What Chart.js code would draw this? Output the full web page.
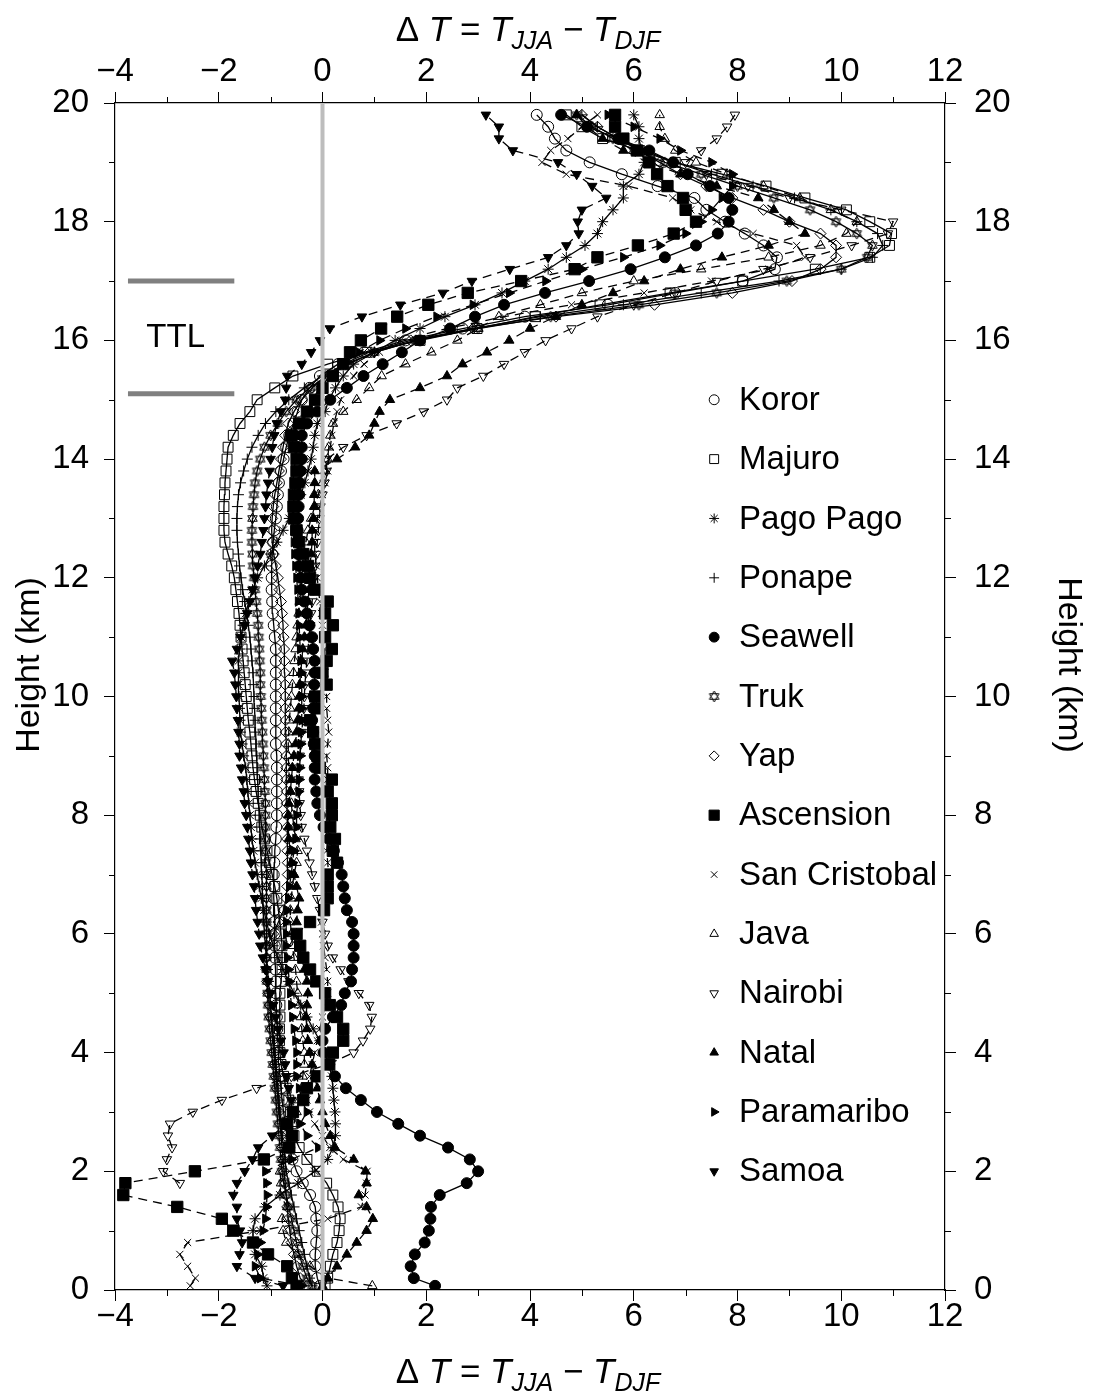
<!DOCTYPE html>
<html><head><meta charset="utf-8">
<script src="https://cdn.jsdelivr.net/npm/chart.js@4/dist/chart.umd.min.js"></script>
<style>html,body{margin:0;padding:0;background:#fff;}canvas{display:block;}</style>
</head><body>
<canvas id="c" width="1094" height="1399"></canvas>
<script>
// ---------------- DATA ----------------
const stations = ['Koror','Majuro','Pago Pago','Ponape','Seawell','Truk','Yap','Ascension','San Cristobal','Java','Nairobi','Natal','Paramaribo','Samoa'];
const heights = [0.07,0.2,0.4,0.6,0.8,1.0,1.2,1.4,1.6,1.8,
 2.0,2.2,2.4,2.6,2.8,3.0,3.2,3.4,3.6,3.8,
 4.0,4.2,4.4,4.6,4.8,5.0,5.2,5.4,5.6,5.8,
 6.0,6.2,6.4,6.6,6.8,7.0,7.2,7.4,7.6,7.8,
 8.0,8.2,8.4,8.6,8.8,9.0,9.2,9.4,9.6,9.8,
 10.0,10.2,10.4,10.6,10.8,11.0,11.2,11.4,11.6,11.8,
 12.0,12.2,12.4,12.6,12.8,13.0,13.2,13.4,13.6,13.8,
 14.0,14.2,14.4,14.6,14.8,15.0,15.2,15.4,15.6,15.8,
 16.0,16.2,16.4,16.6,16.8,17.0,17.2,17.4,17.6,17.8,
 18.0,18.2,18.4,18.6,18.8,19.0,19.2,19.4,19.6,19.8];
const koror = [-0.05,-0.10,-0.14,-0.14,-0.12,-0.10,-0.12,-0.14,-0.24,-0.38,
 -0.50,-0.58,-0.64,-0.68,-0.72,-0.75,-0.78,-0.80,-0.82,-0.84,
 -0.85,-0.86,-0.87,-0.88,-0.89,-0.90,-0.90,-0.91,-0.92,-0.92,
 -0.92,-0.93,-0.93,-0.94,-0.94,-0.94,-0.93,-0.92,-0.90,-0.89,
 -0.88,-0.88,-0.88,-0.88,-0.88,-0.89,-0.90,-0.90,-0.90,-0.90,
 -0.90,-0.90,-0.90,-0.90,-0.90,-0.92,-0.94,-0.96,-0.97,-0.98,
 -0.98,-0.98,-0.97,-0.95,-0.93,-0.90,-0.88,-0.86,-0.84,-0.80,
 -0.75,-0.70,-0.64,-0.56,-0.48,-0.40,-0.25,-0.05,0.30,0.80,
 1.6,2.7,3.9,5.5,6.8,8.1,8.72,8.76,8.5,8.14,
 7.76,7.4,7.17,6.46,5.77,5.15,4.7,4.48,4.35,4.13];
const majuro = [0.05,0.10,0.15,0.20,0.28,0.32,0.34,0.30,0.20,0.08,
 -0.10,-0.30,-0.45,-0.55,-0.60,-0.62,-0.65,-0.70,-0.75,-0.80,
 -0.82,-0.83,-0.83,-0.82,-0.82,-0.82,-0.80,-0.78,-0.78,-0.78,
 -0.80,-0.82,-0.85,-0.88,-0.92,-0.97,-1.02,-1.07,-1.12,-1.17,
 -1.20,-1.24,-1.28,-1.31,-1.34,-1.36,-1.38,-1.40,-1.43,-1.45,
 -1.47,-1.49,-1.51,-1.53,-1.55,-1.57,-1.59,-1.61,-1.64,-1.67,
 -1.70,-1.75,-1.82,-1.88,-1.90,-1.90,-1.90,-1.89,-1.88,-1.86,
 -1.84,-1.82,-1.72,-1.59,-1.40,-1.26,-0.92,-0.57,0.10,0.86,
 1.88,2.98,4.10,5.35,6.70,8.10,9.50,10.55,10.93,10.97,
 10.55,10.10,9.30,8.55,7.70,6.80,6.10,5.40,5.00,4.70];
const pagoPago = [-1.07,-1.14,-1.17,-1.30,-1.34,-1.34,-1.30,-1.11,-0.82,-0.47,
 -0.15,0.10,0.20,0.25,0.25,0.24,0.22,0.20,0.18,0.12,
 0.05,-0.05,-0.18,-0.30,-0.42,-0.55,-0.66,-0.76,-0.86,-0.95,
 -1.02,-1.08,-1.13,-1.18,-1.22,-1.26,-1.30,-1.33,-1.36,-1.38,
 -1.40,-1.42,-1.44,-1.46,-1.48,-1.52,-1.55,-1.58,-1.59,-1.60,
 -1.61,-1.62,-1.62,-1.62,-1.60,-1.57,-1.53,-1.48,-1.42,-1.35,
 -1.25,-1.12,-1.00,-0.88,-0.76,-0.64,-0.52,-0.42,-0.34,-0.28,
 -0.22,-0.18,-0.15,-0.10,0.05,0.12,0.25,0.40,0.60,1.00,
 1.40,1.88,2.36,2.94,3.46,3.90,4.35,4.70,5.06,5.30,
 5.40,5.60,5.80,5.80,6.10,6.20,6.15,6.10,6.10,6.00];
const ponape = [-0.20,-0.25,-0.30,-0.35,-0.40,-0.45,-0.50,-0.55,-0.60,-0.65,
 -0.70,-0.72,-0.75,-0.78,-0.80,-0.82,-0.84,-0.86,-0.88,-0.90,
 -0.92,-0.94,-0.96,-0.98,-1.00,-1.02,-1.04,-1.06,-1.08,-1.10,
 -1.12,-1.13,-1.14,-1.15,-1.16,-1.17,-1.18,-1.19,-1.20,-1.21,
 -1.22,-1.23,-1.24,-1.25,-1.26,-1.27,-1.28,-1.29,-1.30,-1.31,
 -1.32,-1.33,-1.34,-1.36,-1.38,-1.40,-1.43,-1.46,-1.50,-1.54,
 -1.57,-1.60,-1.62,-1.64,-1.65,-1.65,-1.64,-1.62,-1.58,-1.52,
 -1.45,-1.36,-1.24,-1.10,-0.90,-0.65,-0.35,0.00,0.45,1.00,
 1.80,2.90,4.20,5.80,7.30,8.80,10.00,10.60,10.80,10.70,
 10.30,9.80,9.10,8.30,7.50,6.80,6.20,5.70,5.30,5.00];
const seawell = [2.17,1.76,1.70,1.78,1.97,2.05,2.08,2.09,2.26,2.78,
 3.00,2.84,2.42,1.88,1.46,1.05,0.74,0.45,0.24,0.13,
 0.02,0.00,0.05,0.20,0.36,0.43,0.55,0.57,0.60,0.60,
 0.60,0.57,0.47,0.43,0.40,0.37,0.30,0.22,0.12,0.02,
 -0.05,-0.10,-0.12,-0.15,-0.15,-0.15,-0.17,-0.18,-0.20,-0.18,
 -0.17,-0.16,-0.15,-0.15,-0.18,-0.20,-0.25,-0.30,-0.35,-0.40,
 -0.42,-0.45,-0.47,-0.48,-0.48,-0.47,-0.46,-0.45,-0.44,-0.42,
 -0.40,-0.40,-0.40,-0.30,-0.10,0.15,0.47,0.79,1.16,1.53,
 1.88,2.46,2.94,3.50,4.29,5.14,5.94,6.60,7.20,7.62,
 7.83,7.90,7.83,7.47,7.04,6.76,6.30,5.70,5.10,4.60];
const truk = [-0.20,-0.30,-0.38,-0.45,-0.50,-0.55,-0.60,-0.65,-0.70,-0.75,
 -0.78,-0.80,-0.82,-0.84,-0.86,-0.88,-0.90,-0.92,-0.94,-0.96,
 -0.98,-1.00,-1.02,-1.04,-1.05,-1.06,-1.07,-1.08,-1.08,-1.08,
 -1.08,-1.08,-1.08,-1.08,-1.08,-1.08,-1.09,-1.10,-1.10,-1.10,
 -1.10,-1.10,-1.11,-1.12,-1.13,-1.14,-1.15,-1.16,-1.17,-1.18,
 -1.19,-1.20,-1.20,-1.21,-1.22,-1.23,-1.24,-1.26,-1.28,-1.30,
 -1.32,-1.34,-1.35,-1.36,-1.36,-1.35,-1.34,-1.32,-1.30,-1.26,
 -1.20,-1.12,-1.00,-0.86,-0.70,-0.50,-0.25,0.10,0.50,1.00,
 1.80,3.00,4.40,6.10,7.60,8.95,10.00,10.50,10.60,10.30,
 9.90,9.40,8.70,8.00,7.30,6.60,6.00,5.60,5.20,4.90];
const yap = [-0.30,-0.43,-0.50,-0.55,-0.60,-0.63,-0.66,-0.68,-0.70,-0.72,
 -0.74,-0.76,-0.78,-0.80,-0.82,-0.84,-0.86,-0.88,-0.90,-0.92,
 -0.94,-0.96,-0.98,-1.00,-1.02,-1.05,-1.07,-1.08,-1.08,-1.07,
 -0.95,-0.85,-0.75,-0.70,-0.68,-0.67,-0.67,-0.68,-0.68,-0.68,
 -0.68,-0.69,-0.69,-0.70,-0.70,-0.70,-0.70,-0.71,-0.71,-0.72,
 -0.72,-0.72,-0.73,-0.73,-0.74,-0.75,-0.76,-0.78,-0.80,-0.83,
 -0.86,-0.90,-0.94,-0.97,-0.98,-0.97,-0.95,-0.92,-0.88,-0.84,
 -0.80,-0.76,-0.72,-0.66,-0.55,-0.40,-0.20,0.05,0.40,0.90,
 1.70,2.90,4.50,6.40,7.90,9.05,9.60,9.90,9.90,9.60,
 9.00,8.50,7.90,7.40,6.90,6.50,6.10,5.70,5.30,5.00];
const ascension = [-0.50,-0.59,-0.68,-1.05,-1.34,-1.72,-1.94,-2.80,-3.84,-3.80,
 -2.46,-1.13,-0.64,-0.59,-0.68,-0.57,-0.37,-0.30,-0.11,0.13,
 0.20,0.40,0.40,0.28,0.14,0.05,-0.12,-0.24,-0.37,-0.43,
 -0.50,-0.24,0.03,0.10,0.10,0.10,0.28,0.20,0.24,0.15,
 0.18,0.18,0.10,0.18,-0.05,-0.10,-0.14,-0.18,-0.24,-0.10,
 -0.14,0.08,0.00,0.08,0.18,0.05,0.20,0.05,0.10,-0.14,
 -0.24,-0.28,-0.37,-0.45,-0.50,-0.55,-0.56,-0.55,-0.52,-0.50,
 -0.50,-0.55,-0.60,-0.45,-0.30,-0.14,0.00,0.20,0.40,0.53,
 0.74,1.13,1.44,2.04,2.80,3.83,4.86,5.30,6.08,6.77,
 7.20,7.00,6.95,6.65,6.45,6.30,6.06,5.80,5.64,5.64];
const sanCristobal = [-2.55,-2.45,-2.60,-2.75,-2.60,-1.20,0.10,0.75,0.82,0.85,
 0.86,0.40,0.14,0.00,-0.15,-0.25,-0.30,-0.30,-0.25,-0.20,
 -0.15,-0.10,-0.05,0.00,0.05,0.10,0.10,0.08,0.05,0.02,
 0.00,-0.02,0.00,0.05,0.10,0.12,0.10,0.08,0.10,0.12,
 0.15,0.15,0.12,0.10,0.10,0.08,0.10,0.12,0.10,0.08,
 0.08,0.06,0.05,0.05,0.04,0.02,0.00,-0.02,-0.05,-0.08,
 -0.10,-0.12,-0.15,-0.15,-0.12,-0.10,-0.05,0.00,0.05,0.10,
 0.12,0.15,0.18,0.22,0.28,0.35,0.45,0.60,0.80,1.10,
 1.50,2.40,3.50,4.80,6.20,7.50,8.60,9.30,9.14,8.30,
 7.60,7.10,6.75,5.90,4.70,4.23,4.40,4.73,5.00,5.30];
const java = [0.96,0.10,-0.24,-0.50,-0.70,-0.76,-0.78,-0.68,-0.82,-0.80,
 -0.82,-0.76,-0.70,-0.62,-0.55,-0.50,-0.45,-0.40,-0.38,-0.35,
 -0.35,-0.38,-0.40,-0.42,-0.45,-0.48,-0.50,-0.52,-0.55,-0.58,
 -0.60,-0.62,-0.62,-0.60,-0.58,-0.55,-0.50,-0.48,-0.52,-0.55,
 -0.58,-0.60,-0.62,-0.64,-0.65,-0.66,-0.66,-0.65,-0.64,-0.62,
 -0.60,-0.58,-0.56,-0.54,-0.52,-0.50,-0.48,-0.46,-0.44,-0.42,
 -0.40,-0.38,-0.35,-0.32,-0.28,-0.22,-0.15,-0.08,0.00,0.05,
 0.10,0.12,0.15,0.20,0.40,0.66,0.90,1.14,1.60,2.10,
 2.60,3.00,3.40,4.20,5.00,6.00,7.30,8.60,9.60,10.10,
 10.30,9.80,9.20,8.50,7.80,7.20,6.80,6.60,6.50,6.50];
const nairobi = [null,null,null,null,null,null,null,null,null,-2.75,
 -3.07,-3.00,-2.90,-2.98,-2.94,-2.50,-1.94,-1.27,-0.60,0.10,
 0.60,0.78,0.92,0.95,0.90,0.70,0.50,0.35,0.20,0.10,
 0.05,0.00,-0.05,-0.10,-0.15,-0.20,-0.25,-0.30,-0.35,-0.40,
 -0.42,-0.44,-0.45,-0.46,-0.45,-0.44,-0.42,-0.40,-0.38,-0.36,
 -0.35,-0.34,-0.32,-0.30,-0.28,-0.26,-0.24,-0.22,-0.20,-0.18,
 -0.16,-0.14,-0.12,-0.10,-0.08,-0.06,-0.04,0.00,0.04,0.08,
 0.08,0.40,0.85,1.43,1.95,2.40,2.60,3.10,3.50,3.90,
 4.30,4.80,5.30,6.00,6.80,7.60,8.50,9.40,10.20,10.90,
 11.00,10.00,9.00,8.20,7.40,7.00,7.30,7.60,7.80,7.95];
const natal = [0.00,0.10,0.28,0.47,0.66,0.85,0.97,0.85,0.70,0.85,
 0.83,0.60,0.24,0.15,0.05,0.00,-0.05,-0.10,-0.15,-0.20,
 -0.25,-0.28,-0.30,-0.32,-0.30,-0.28,-0.30,-0.35,-0.40,-0.45,
 -0.50,-0.50,-0.48,-0.45,-0.50,-0.55,-0.60,-0.62,-0.65,-0.66,
 -0.66,-0.65,-0.62,-0.60,-0.58,-0.55,-0.52,-0.50,-0.48,-0.46,
 -0.45,-0.44,-0.42,-0.40,-0.38,-0.35,-0.32,-0.30,-0.28,-0.26,
 -0.25,-0.24,-0.22,-0.20,-0.20,-0.18,-0.16,-0.16,-0.15,-0.15,
 0.28,0.63,0.90,1.00,1.10,1.30,1.88,2.40,2.70,3.17,
 3.60,4.00,4.50,5.00,5.60,6.20,6.90,7.70,8.60,9.30,
 9.00,8.70,8.40,7.60,6.90,6.30,5.80,5.40,5.10,4.90];
const paramaribo = [-0.40,-1.20,-1.30,-1.25,-1.20,-1.15,-1.10,-1.08,-1.07,-1.08,
 -1.10,-0.60,-0.08,-0.30,-0.43,-0.30,-0.40,-0.45,-0.50,-0.50,
 -0.50,-0.52,-0.55,-0.58,-0.60,-0.62,-0.64,-0.66,-0.68,-0.70,
 -0.70,-0.70,-0.68,-0.66,-0.64,-0.60,-0.58,-0.55,-0.52,-0.50,
 -0.50,-0.48,-0.46,-0.45,-0.44,-0.43,-0.42,-0.41,-0.40,-0.40,
 -0.40,-0.40,-0.41,-0.42,-0.43,-0.44,-0.45,-0.46,-0.47,-0.48,
 -0.50,-0.52,-0.54,-0.55,-0.56,-0.57,-0.58,-0.58,-0.57,-0.55,
 -0.52,-0.48,-0.44,-0.38,-0.30,-0.20,-0.05,0.15,0.40,0.70,
 1.10,1.60,2.20,2.90,3.60,4.30,5.00,5.80,6.50,7.00,
 7.30,7.50,7.70,7.90,7.90,7.50,6.90,6.50,6.00,5.50];
const samoa = [-0.76,-1.30,-1.65,-1.60,-1.55,-1.59,-1.65,-1.65,-1.72,-1.65,
 -1.50,-1.35,-1.24,-0.97,-0.70,-0.60,-0.60,-0.65,-0.70,-0.72,
 -0.75,-0.80,-0.85,-0.90,-0.95,-1.00,-1.05,-1.10,-1.15,-1.20,
 -1.22,-1.25,-1.28,-1.30,-1.32,-1.35,-1.38,-1.40,-1.43,-1.45,
 -1.47,-1.50,-1.52,-1.55,-1.57,-1.60,-1.60,-1.62,-1.63,-1.65,
 -1.66,-1.68,-1.70,-1.74,-1.65,-1.58,-1.50,-1.45,-1.40,-1.35,
 -1.30,-1.25,-1.20,-1.17,-1.14,-1.12,-1.10,-1.08,-1.05,-1.02,
 -1.00,-0.97,-0.93,-0.88,-0.80,-0.72,-0.70,-0.68,-0.40,-0.22,
 -0.05,0.14,0.76,1.50,2.32,2.88,3.61,4.35,4.70,4.94,
 4.92,5.00,5.47,5.20,4.90,4.54,3.67,3.40,3.40,3.15];
const series = [koror, majuro, pagoPago, ponape, seawell, truk, yap, ascension, sanCristobal, java, nairobi, natal, paramaribo, samoa];
const ttlBounds = [15.1, 17.0];

// ---------------- STYLE ----------------
const FONT = "'Liberation Sans', Arial, Helvetica, sans-serif";
Chart.defaults.font.family = FONT;
Chart.defaults.color = '#000';

function makeHexagram(r){
  const s = Math.ceil(r*2+4), c = document.createElement('canvas');
  c.width = s; c.height = s;
  const g = c.getContext('2d');
  g.strokeStyle = '#000'; g.lineWidth = 1;
  const cx = s/2, cy = s/2;
  [0, Math.PI].forEach(rot => {
    g.beginPath();
    for (let k=0;k<3;k++){
      const a = rot + k*2*Math.PI/3;
      const px = cx + Math.sin(a)*r, py = cy - Math.cos(a)*r;
      if (k) g.lineTo(px,py); else g.moveTo(px,py);
    }
    g.closePath(); g.stroke();
  });
  return c;
}
const hexPt = makeHexagram(5.5);

const styles = [
 {ps:'circle', r:5.5, fill:false, dash:false},
 {ps:'rect', r:7, fill:false, dash:false},
 {ps:'star', r:5.5, fill:false, dash:false},
 {ps:'cross', r:5.5, fill:false, dash:false},
 {ps:'circle', r:5.5, fill:true, dash:false},
 {ps:hexPt, r:5.5, fill:false, dash:false},
 {ps:'rectRot', r:5.5, fill:false, dash:false},
 {ps:'rect', r:8, fill:true, dash:true},
 {ps:'crossRot', r:5, fill:false, dash:true},
 {ps:'triangle', r:5.5, fill:false, dash:true},
 {ps:'triangle', rot:180, r:5.5, fill:false, dash:true},
 {ps:'triangle', r:5.5, fill:true, dash:true},
 {ps:'triangle', rot:90, r:5.5, fill:true, dash:true},
 {ps:'triangle', rot:180, r:5.5, fill:true, dash:true}
];

function pts(arr){
  const out = [];
  arr.forEach((v,i) => { if (v !== null) out.push({x:v, y:heights[i]}); });
  return out;
}
const fmt = v => (v < 0 ? '\u2212' + Math.abs(v) : String(v));

const datasets = stations.map((name,i) => {
  const st = styles[i];
  return {
    label: name, data: pts(series[i]), showLine: true,
    borderColor: '#000', borderWidth: 1.3, borderDash: st.dash ? [9,6] : [],
    pointStyle: st.ps, pointRadius: st.r, pointRotation: st.rot || 0,
    pointBorderColor: '#000', pointBackgroundColor: st.fill ? '#000' : 'rgba(0,0,0,0)',
    pointBorderWidth: 1, fill: false, tension: 0,
    xAxisID: 'x', yAxisID: 'y'
  };
});

const TICKLEN = 11, MINORLEN = 6;
function axisOpts(pos, min, max, pad, extra){
  return Object.assign({
    type: 'linear', position: pos, min: min, max: max,
    ticks: {stepSize: 2, font: {size: 33}, color: '#000', callback: fmt, maxRotation: 0, autoSkip: false, padding: pad},
    grid: {display: true, drawOnChartArea: false, drawTicks: true, tickLength: TICKLEN, color: '#000', lineWidth: 1},
    border: {display: true, color: '#000', width: 1.2}
  }, extra);
}

const overlay = {
  id: 'overlay',
  afterDatasetsDraw(chart){
    const {ctx, chartArea: a, scales: {x, y}} = chart;
    ctx.save();
    const x0 = x.getPixelForValue(0);
    ctx.strokeStyle = '#bdbdbd'; ctx.lineWidth = 4;
    ctx.beginPath(); ctx.moveTo(x0, a.top); ctx.lineTo(x0, a.bottom); ctx.stroke();
    ctx.strokeStyle = '#808080'; ctx.lineWidth = 5;
    ttlBounds.forEach(h => {
      const py = y.getPixelForValue(h);
      ctx.beginPath(); ctx.moveTo(x.getPixelForValue(-3.75), py); ctx.lineTo(x.getPixelForValue(-1.7), py); ctx.stroke();
    });
    ctx.fillStyle = '#000'; ctx.font = '33px ' + FONT; ctx.textAlign = 'center'; ctx.textBaseline = 'middle';
    ctx.fillText('TTL', x.getPixelForValue(-2.83), y.getPixelForValue(16.05));
    stations.forEach((name, i) => {
      const st = styles[i];
      const py = y.getPixelForValue(15 - i);
      const mx = x.getPixelForValue(7.55), tx = x.getPixelForValue(8.03);
      ctx.strokeStyle = '#000'; ctx.lineWidth = 1; ctx.setLineDash([]);
      ctx.fillStyle = st.fill ? '#000' : 'rgba(0,0,0,0)';
      Chart.helpers.drawPoint(ctx, {pointStyle: st.ps, rotation: st.rot || 0, radius: st.r * 0.9, borderWidth: 1}, mx, py);
      ctx.fillStyle = '#000'; ctx.font = '33px ' + FONT; ctx.textAlign = 'left'; ctx.textBaseline = 'middle';
      ctx.fillText(name, tx, py + 1);
    });
    ctx.restore();
  },
  afterDraw(chart){
    const {ctx, chartArea: a, scales: {x, y}} = chart;
    ctx.save();
    ctx.strokeStyle = '#000'; ctx.lineWidth = 1;
    for (let v = -3; v <= 11; v += 2) {
      const px = Math.round(x.getPixelForValue(v)) + 0.5;
      ctx.beginPath(); ctx.moveTo(px, a.bottom); ctx.lineTo(px, a.bottom + MINORLEN);
      ctx.moveTo(px, a.top); ctx.lineTo(px, a.top - MINORLEN); ctx.stroke();
    }
    for (let v = 1; v <= 19; v += 2) {
      const py = Math.round(y.getPixelForValue(v)) + 0.5;
      ctx.beginPath(); ctx.moveTo(a.left, py); ctx.lineTo(a.left - MINORLEN, py);
      ctx.moveTo(a.right, py); ctx.lineTo(a.right + MINORLEN, py); ctx.stroke();
    }
    ctx.fillStyle = '#000';
    drawDelta(ctx, 528, 41);
    drawDelta(ctx, 528, 1383);
    ctx.font = '34px ' + FONT; ctx.textAlign = 'center'; ctx.textBaseline = 'middle';
    ctx.save(); ctx.translate(30, 665); ctx.rotate(-Math.PI/2); ctx.fillText('Height (km)', 0, 0); ctx.restore();
    ctx.save(); ctx.translate(1068, 665); ctx.rotate(Math.PI/2); ctx.fillText('Height (km)', 0, 0); ctx.restore();
    ctx.restore();
  }
};

function drawDelta(ctx, cx, base){
  const big = 35, small = 25;
  const segs = [
    {t:'\u0394 ', it:false, sub:false},
    {t:'T', it:true, sub:false},
    {t:' = ', it:false, sub:false},
    {t:'T', it:true, sub:false},
    {t:'JJA', it:true, sub:true},
    {t:' \u2212 ', it:false, sub:false},
    {t:'T', it:true, sub:false},
    {t:'DJF', it:true, sub:true}
  ];
  const fontOf = s => (s.it ? 'italic ' : '') + (s.sub ? small : big) + 'px ' + FONT;
  let total = 0;
  segs.forEach(s => { ctx.font = fontOf(s); s.w = ctx.measureText(s.t).width; total += s.w; });
  let px = cx - total / 2;
  ctx.textAlign = 'left'; ctx.textBaseline = 'alphabetic';
  segs.forEach(s => { ctx.font = fontOf(s); ctx.fillText(s.t, px, base + (s.sub ? 8 : 0)); px += s.w; });
}

new Chart(document.getElementById('c'), {
  type: 'scatter',
  data: {datasets: datasets},
  options: {
    responsive: false, animation: false, devicePixelRatio: 1,
    layout: {padding: 0},
    plugins: {legend: {display: false}, tooltip: {enabled: false}},
    scales: {
      x: axisOpts('bottom', -4, 12, -4, {axis: 'x', afterFit: s => { s.height = 109; }}),
      x2: axisOpts('top', -4, 12, 0, {axis: 'x', afterFit: s => { s.height = 103; }}),
      y: axisOpts('left', 0, 20, 15, {axis: 'y', afterFit: s => { s.width = 115; }}),
      y2: axisOpts('right', 0, 20, 18, {axis: 'y', afterFit: s => { s.width = 149; }})
    }
  },
  plugins: [overlay]
});
</script>
</body></html>
